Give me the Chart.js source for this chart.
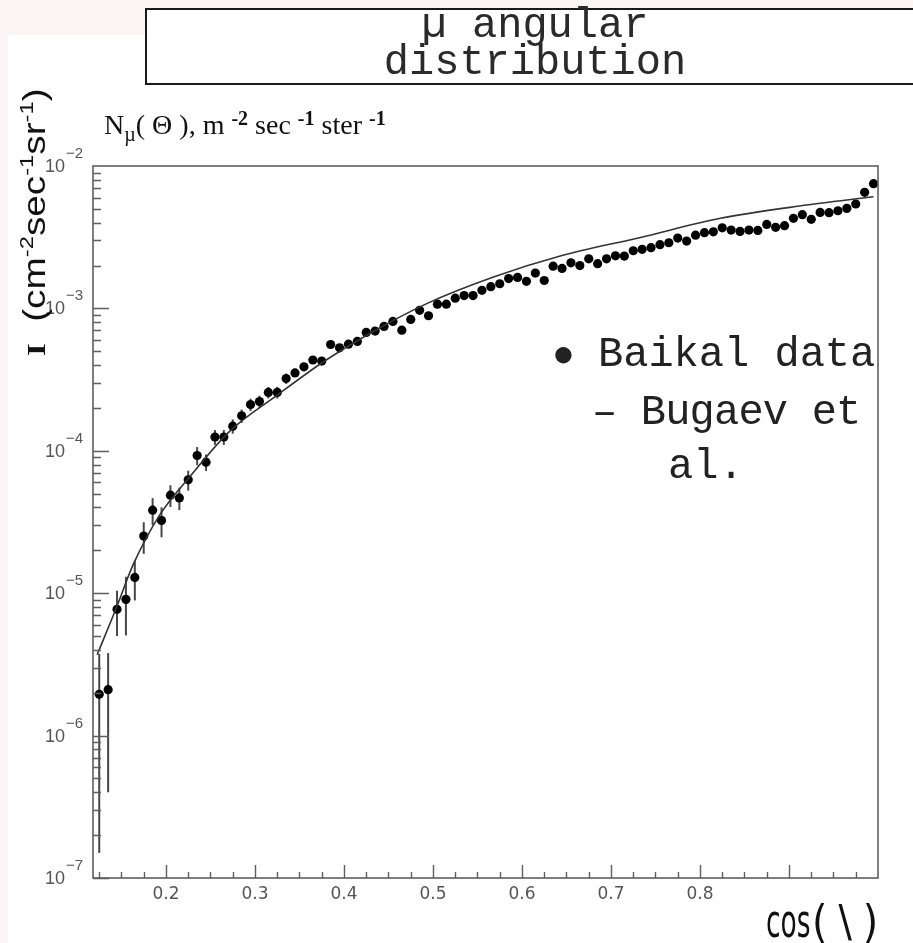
<!DOCTYPE html>
<html>
<head>
<meta charset="utf-8">
<script src="https://cdn.jsdelivr.net/npm/chart.js@4.4.1/dist/chart.umd.min.js"></script>
<style>
  html, body { margin: 0; padding: 0; width: 913px; height: 943px; overflow: hidden; background: #fcf4f4; }
  #sheet { position: absolute; left: 8px; top: 35px; width: 905px; height: 908px; background: #ffffff; }
  #plot { position: absolute; left: 0; top: 0; }
  .txt { position: absolute; white-space: nowrap; }
  #titlebox { left: 145px; top: 8px; width: 790px; height: 73px; border: 2px solid #1a1a1a; background: #fff; }
  #title { left: 145px; top: 8px; width: 780px; text-align: center; font-family: "Courier New", "Liberation Mono", monospace;
           font-size: 42px; line-height: 37px; color: #2a2a2a; }
  #nlab { left: 104px; top: 107px; font-family: "Liberation Serif", "Times New Roman", serif; font-size: 28px; color: #111; }
  #nlab sub { font-size: 20px; vertical-align: -7px; }
  #nlab sup { font-size: 20px; font-weight: bold; vertical-align: 9px; }
  #ylab { font-family: "Liberation Sans", Arial, sans-serif; font-size: 31px; line-height: 34px; color: #111;
          transform: rotate(-90deg) scaleX(1.25); transform-origin: 0 0; left: 10px; top: 356px; }
  #ylab b { font-family: "Liberation Serif", serif; font-size: 26px; }
  #ylab sup { font-size: 19px; vertical-align: 12px; }
  .leg { font-family: "Courier New", "Liberation Mono", monospace; font-size: 42px; line-height: 42px; color: #222; }
  #leg1 { left: 552px; top: 334px; }
  #leg1 .dot { display: inline-block; width: 46px; font-size: 38px; }
  #leg2 { left: 592px; top: 392px; letter-spacing: -0.8px; }
  #leg3 { left: 668px; top: 446px; }
  .xl { font-family: "DejaVu Sans Condensed", "DejaVu Sans", sans-serif; font-stretch: condensed; color: #111; line-height: 1; }
  #xcos { left: 766px; top: 898px; font-size: 46px; transform: scaleX(0.64); transform-origin: 0 0; }
  #xpar { left: 812px; top: 900px; font-size: 44px; letter-spacing: 11px; }
</style>
</head>
<body>
<div id="sheet"></div>
<canvas id="plot" width="913" height="943"></canvas>
<div id="titlebox" class="txt"></div>
<div id="title" class="txt">µ angular<br>distribution</div>
<div id="nlab" class="txt">N<sub>µ</sub>( Θ ), m <sup>-2</sup> sec <sup>-1</sup> ster <sup>-1</sup></div>
<div id="ylab" class="txt"><b>I</b>&nbsp; (cm<sup>-2</sup>sec<sup>-1</sup>sr<sup>-1</sup>)</div>
<div id="leg1" class="txt leg"><span class="dot">●</span>Baikal data</div>
<div id="leg2" class="txt leg">– Bugaev et</div>
<div id="leg3" class="txt leg">al.</div>
<div id="xcos" class="txt xl">cos</div>
<div id="xpar" class="txt xl">(\)</div>
<script>
// Bin centres in cos(theta)
const cosTheta = [
  0.125, 0.135, 0.145, 0.155, 0.165, 0.175, 0.185, 0.195, 0.205, 0.215,
  0.225, 0.235, 0.245, 0.255, 0.265, 0.275, 0.285, 0.295, 0.305, 0.315,
  0.325, 0.335, 0.345, 0.355, 0.365, 0.375, 0.385, 0.395, 0.405, 0.415,
  0.425, 0.435, 0.445, 0.455, 0.465, 0.475, 0.485, 0.495, 0.505, 0.515,
  0.525, 0.535, 0.545, 0.555, 0.565, 0.575, 0.585, 0.595, 0.605, 0.615,
  0.625, 0.635, 0.645, 0.655, 0.665, 0.675, 0.685, 0.695, 0.705, 0.715,
  0.725, 0.735, 0.745, 0.755, 0.765, 0.775, 0.785, 0.795, 0.805, 0.815,
  0.825, 0.835, 0.845, 0.855, 0.865, 0.875, 0.885, 0.895, 0.905, 0.915,
  0.925, 0.935, 0.945, 0.955, 0.965, 0.975, 0.985, 0.995
];

// Baikal muon intensity, cm^-2 s^-1 sr^-1
const baikalFlux = [
  1.95e-6, 2.1e-6, 7.7e-6, 9.05e-6, 1.29e-5, 2.52e-5, 3.83e-5, 3.24e-5, 4.88e-5, 4.67e-5,
  6.25e-5, 9.27e-5, 8.32e-5, 1.25e-4, 1.25e-4, 1.49e-4, 1.76e-4, 2.11e-4, 2.22e-4, 2.57e-4,
  2.57e-4, 3.22e-4, 3.52e-4, 3.89e-4, 4.34e-4, 4.27e-4, 5.58e-4, 5.29e-4, 5.61e-4, 5.86e-4,
  6.78e-4, 6.93e-4, 7.47e-4, 8.10e-4, 7.03e-4, 8.37e-4, 9.69e-4, 8.88e-4, 1.07e-3, 1.07e-3,
  1.18e-3, 1.23e-3, 1.23e-3, 1.34e-3, 1.42e-3, 1.49e-3, 1.62e-3, 1.65e-3, 1.55e-3, 1.77e-3,
  1.57e-3, 1.98e-3, 1.91e-3, 2.09e-3, 2.00e-3, 2.23e-3, 2.06e-3, 2.23e-3, 2.34e-3, 2.33e-3,
  2.54e-3, 2.60e-3, 2.67e-3, 2.80e-3, 2.89e-3, 3.12e-3, 2.97e-3, 3.27e-3, 3.40e-3, 3.45e-3,
  3.68e-3, 3.55e-3, 3.47e-3, 3.55e-3, 3.53e-3, 3.89e-3, 3.71e-3, 3.81e-3, 4.29e-3, 4.55e-3,
  4.22e-3, 4.72e-3, 4.70e-3, 4.85e-3, 5.04e-3, 5.41e-3, 6.53e-3, 7.51e-3
];

// Statistical errors (only the low-statistics bins near the horizon are wider than a marker)
const baikalErr = [
  1.8e-6, 1.7e-6, 2.7e-6, 4.0e-6, 4.0e-6, 6.3e-6, 8.2e-6, 7.7e-6, 8.5e-6, 8.4e-6,
  1.0e-5, 1.35e-5, 1.1e-5, 1.5e-5, 1.5e-5, 1.7e-5, 1.9e-5, 2.1e-5, 2.2e-5, 2.4e-5,
  2.4e-5, 2.7e-5
];

// Bugaev et al. prediction
const bugaevCos  = [0.1227, 0.1446, 0.163, 0.193, 0.227, 0.272, 0.325, 0.377, 0.429,
                    0.493, 0.568, 0.643, 0.733, 0.823, 0.912, 0.995];
const bugaevFlux = [3.7e-6, 8.0e-6, 1.58e-5, 3.55e-5, 6.6e-5, 1.38e-4, 2.46e-4, 4.22e-4, 6.67e-4,
                    1.08e-3, 1.66e-3, 2.33e-3, 3.15e-3, 4.29e-3, 5.24e-3, 6.08e-3];

// Axis ticks
const xMajorTicks = [0.2, 0.3, 0.4, 0.5, 0.6, 0.7, 0.8, 0.9];
const xTickLabels = ['0.2', '0.3', '0.4', '0.5', '0.6', '0.7', '0.8'];
const yDecades    = [-7, -6, -5, -4, -3, -2];

const AXIS_GREY = '#5e5e5e';

// Error bars, frame, inward ticks and tick labels in the ROOT style
const rootAxes = {
  id: 'rootAxes',
  beforeDatasetsDraw(chart) {
    const { ctx, scales: { x, y } } = chart;
    ctx.save();
    ctx.strokeStyle = '#474747';
    ctx.lineWidth = 2;
    baikalErr.forEach((e, i) => {
      const px = x.getPixelForValue(cosTheta[i]);
      const lo = Math.max(baikalFlux[i] - e, y.min);
      ctx.beginPath();
      ctx.moveTo(px, y.getPixelForValue(baikalFlux[i] + e));
      ctx.lineTo(px, y.getPixelForValue(lo));
      ctx.stroke();
    });
    ctx.restore();
  },
  afterDatasetsDraw(chart) {
    const { ctx, chartArea: a, scales: { x, y } } = chart;
    ctx.save();
    ctx.strokeStyle = AXIS_GREY;
    ctx.lineWidth = 1.6;
    ctx.strokeRect(a.left, a.top, a.right - a.left, a.bottom - a.top);

    // x ticks (pointing up into the frame)
    ctx.lineWidth = 1.4;
    ctx.beginPath();
    for (let v = 0.125; v < x.max - 1e-9; v += 0.025) {
      const px = Math.round(x.getPixelForValue(v)) + 0.5;
      const major = xMajorTicks.some(t => Math.abs(t - v) < 1e-6);
      ctx.moveTo(px, a.bottom);
      ctx.lineTo(px, a.bottom - (major ? 13 : 6));
    }
    // y ticks (pointing right into the frame)
    for (let d = yDecades[0]; d < yDecades[yDecades.length - 1]; d++) {
      for (let m = 1; m <= 9; m++) {
        const py = Math.round(y.getPixelForValue(m * Math.pow(10, d))) + 0.5;
        ctx.moveTo(a.left, py);
        ctx.lineTo(a.left + (m === 1 ? 16 : 8), py);
      }
    }
    ctx.stroke();

    // x tick labels
    ctx.fillStyle = '#555';
    ctx.font = '17px "DejaVu Sans", sans-serif';
    ctx.textAlign = 'center';
    ctx.textBaseline = 'middle';
    xTickLabels.forEach((t) => {
      ctx.fillText(t, x.getPixelForValue(parseFloat(t)), a.bottom + 17);
    });

    // y tick labels: 10 with a raised exponent
    yDecades.forEach((d) => {
      const py = y.getPixelForValue(Math.pow(10, d));
      ctx.font = '18px "Liberation Sans", Arial, sans-serif';
      ctx.textAlign = 'right';
      ctx.textBaseline = 'middle';
      ctx.fillText('10', 65, py + 1);
      ctx.font = '15px "Liberation Sans", Arial, sans-serif';
      ctx.textAlign = 'left';
      ctx.textBaseline = 'alphabetic';
      ctx.fillText('\u2212' + Math.abs(d), 66, py - 8);
    });
    ctx.restore();
  }
};

new Chart(document.getElementById('plot'), {
  type: 'scatter',
  data: {
    datasets: [
      {
        label: 'Bugaev et al.',
        data: bugaevCos.map((c, i) => ({ x: c, y: bugaevFlux[i] })),
        showLine: true,
        borderColor: '#333',
        borderWidth: 1.6,
        pointRadius: 0,
        cubicInterpolationMode: 'monotone',
        fill: false
      },
      {
        label: 'Baikal data',
        data: cosTheta.map((c, i) => ({ x: c, y: baikalFlux[i] })),
        backgroundColor: '#000',
        borderColor: '#000',
        borderWidth: 0,
        pointStyle: 'circle',
        pointRadius: 4.6
      }
    ]
  },
  options: {
    responsive: false,
    devicePixelRatio: 1,
    animation: false,
    layout: { padding: { left: 93, top: 166, right: 35, bottom: 65 } },
    scales: {
      x: { type: 'linear', min: 0.118, max: 1.0, display: false },
      y: { type: 'logarithmic', min: 1e-7, max: 1e-2, display: false }
    },
    plugins: { legend: { display: false }, tooltip: { enabled: false } }
  },
  plugins: [rootAxes]
});
</script>
</body>
</html>
